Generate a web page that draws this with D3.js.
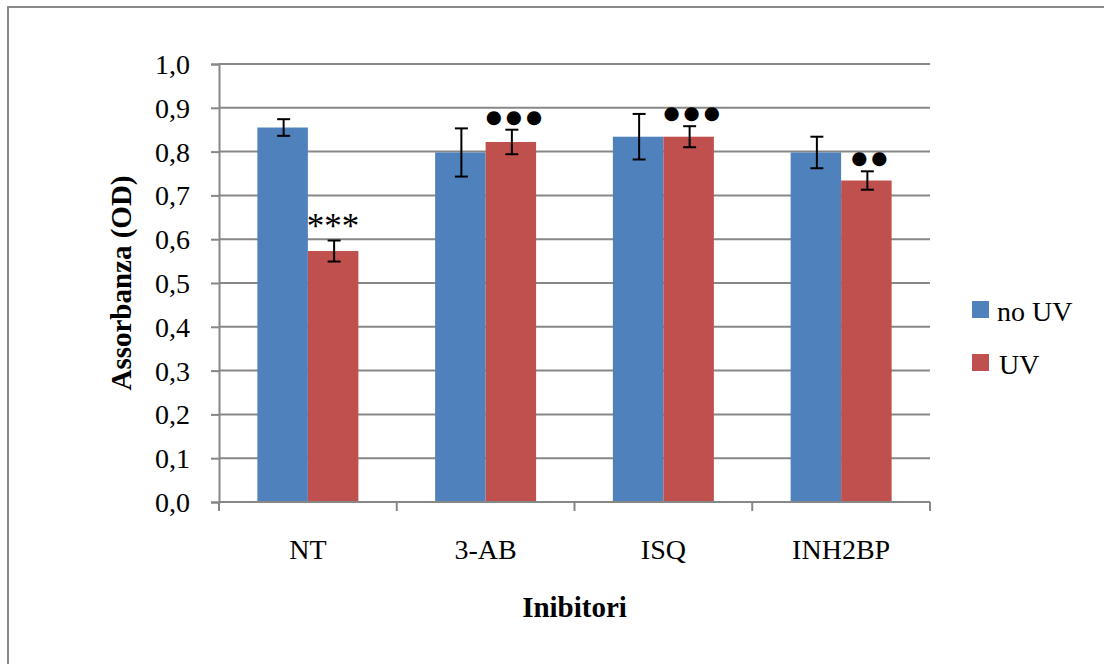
<!DOCTYPE html>
<html>
<head>
<meta charset="utf-8">
<script src="https://cdn.jsdelivr.net/npm/d3@7"></script>
<style>
  html, body { margin: 0; padding: 0; background: #ffffff; }
  svg { display: block; }
</style>
</head>
<body>
<svg id="chart" width="1104" height="664"></svg>
<script>
// ---- data ----
const categories = ["NT", "3-AB", "ISQ", "INH2BP"];
const seriesNames = ["no UV", "UV"];
const noUV = [0.855, 0.798, 0.834, 0.798];
const noUVErr = [0.019, 0.055, 0.052, 0.036];
const uv = [0.573, 0.822, 0.834, 0.734];
const uvErr = [0.024, 0.028, 0.024, 0.021];
const uvMarks = ["***", "●●●", "●●●", "●●"];
const yTicks = [0, 0.1, 0.2, 0.3, 0.4, 0.5, 0.6, 0.7, 0.8, 0.9, 1.0];
const xTitle = "Inibitori";
const yTitle = "Assorbanza (OD)";

const colors = { "no UV": "#4F81BD", "UV": "#C0504D" };
const gridColor = "#878787";
const serif = "'Liberation Serif', 'Times New Roman', serif";

const svg = d3.select("#chart");

// outer frame
svg.append("rect")
  .attr("x", 8).attr("y", 7)
  .attr("width", 1200).attr("height", 800)
  .attr("fill", "#fff")
  .attr("stroke", "#8a8a8a").attr("stroke-width", 2);

const plot = { left: 219, right: 930, top: 64, bottom: 502 };

const x0 = d3.scaleBand().domain(categories).range([plot.left, plot.right]).paddingInner(0).paddingOuter(0);
const x1 = d3.scaleBand().domain(seriesNames).range([0, x0.bandwidth()]).paddingInner(0).paddingOuter(0.76);
const y = d3.scaleLinear().domain([0, 1]).range([plot.bottom, plot.top]);

const fmt = v => d3.format(".1f")(v).replace(".", ",");

// gridlines
svg.append("g").selectAll("line").data(yTicks).join("line")
  .attr("x1", plot.left).attr("x2", plot.right)
  .attr("y1", d => y(d)).attr("y2", d => y(d))
  .attr("stroke", gridColor).attr("stroke-width", 2);

// y axis
const yAxis = d3.axisLeft(y).tickValues(yTicks).tickFormat(fmt).tickSize(8).tickPadding(21);
const gy = svg.append("g").attr("transform", `translate(${plot.left},0)`).call(yAxis);
gy.select(".domain").attr("stroke", gridColor).attr("stroke-width", 2);
gy.selectAll(".tick line").attr("stroke", gridColor).attr("stroke-width", 2);
gy.selectAll(".tick text")
  .attr("font-family", serif).attr("font-size", 28).attr("fill", "#000")
  .attr("dy", "0.34em");

// bars data
const rows = categories.map((c, i) => ({
  cat: c,
  vals: [
    { s: "no UV", v: noUV[i], e: noUVErr[i] },
    { s: "UV", v: uv[i], e: uvErr[i] }
  ],
  mark: uvMarks[i]
}));

const groups = svg.append("g").selectAll("g").data(rows).join("g")
  .attr("transform", d => `translate(${x0(d.cat)},0)`);

groups.selectAll("rect").data(d => d.vals).join("rect")
  .attr("x", d => x1(d.s))
  .attr("width", x1.bandwidth())
  .attr("y", d => y(d.v))
  .attr("height", d => y(0) - y(d.v))
  .attr("fill", d => colors[d.s]);

// x axis (on top of bars)
const xAxisG = svg.append("g");
xAxisG.append("line")
  .attr("x1", plot.left).attr("x2", plot.right)
  .attr("y1", y(0)).attr("y2", y(0))
  .attr("stroke", gridColor).attr("stroke-width", 2);
const boundaries = categories.map(c => x0(c)).concat([x0.range()[1]]);
xAxisG.selectAll("line.tk").data(boundaries).join("line").attr("class", "tk")
  .attr("x1", d => d).attr("x2", d => d)
  .attr("y1", y(0)).attr("y2", y(0) + 9)
  .attr("stroke", gridColor).attr("stroke-width", 2);
xAxisG.selectAll("text").data(categories).join("text")
  .attr("x", d => x0(d) + x0.bandwidth() / 2)
  .attr("y", 559)
  .attr("text-anchor", "middle")
  .attr("font-family", serif).attr("font-size", 28).attr("fill", "#000")
  .text(d => d);

// error bars
const eb = groups.selectAll("g.err").data(d => d.vals).join("g").attr("class", "err");
const cap = 6.5;
const cx = d => x1(d.s) + x1.bandwidth() / 2 + 1;
eb.append("line")
  .attr("x1", cx).attr("x2", cx)
  .attr("y1", d => y(d.v + d.e)).attr("y2", d => y(d.v - d.e))
  .attr("stroke", "#000").attr("stroke-width", 2);
eb.append("line")
  .attr("x1", d => cx(d) - cap).attr("x2", d => cx(d) + cap)
  .attr("y1", d => y(d.v + d.e)).attr("y2", d => y(d.v + d.e))
  .attr("stroke", "#000").attr("stroke-width", 2);
eb.append("line")
  .attr("x1", d => cx(d) - cap).attr("x2", d => cx(d) + cap)
  .attr("y1", d => y(d.v - d.e)).attr("y2", d => y(d.v - d.e))
  .attr("stroke", "#000").attr("stroke-width", 2);

// significance marks above UV bars
groups.append("text")
  .attr("x", d => x1("UV") + x1.bandwidth() / 2 + (d.mark === "***" ? 0 : 5))
  .attr("y", d => {
    const top = y(d.vals[1].v + d.vals[1].e);
    return d.mark === "***" ? top - 3 : top - 7;
  })
  .attr("text-anchor", "middle")
  .attr("font-family", d => d.mark === "***" ? serif : "'DejaVu Sans', sans-serif")
  .attr("font-size", d => d.mark === "***" ? 35 : 18.5)
  .attr("letter-spacing", d => d.mark === "***" ? 0 : 4)
  .attr("fill", "#000")
  .text(d => d.mark);

// axis titles
svg.append("text")
  .attr("x", (plot.left + plot.right) / 2)
  .attr("y", 617)
  .attr("text-anchor", "middle")
  .attr("font-family", serif).attr("font-weight", "bold").attr("font-size", 29)
  .text(xTitle);

svg.append("text")
  .attr("transform", "translate(131,283) rotate(-90)")
  .attr("text-anchor", "middle")
  .attr("font-family", serif).attr("font-weight", "bold").attr("font-size", 29)
  .text(yTitle);

// legend
const legend = svg.append("g").selectAll("g").data(seriesNames).join("g")
  .attr("transform", (d, i) => `translate(972,${301 + i * 53})`);
legend.append("rect").attr("width", 17).attr("height", 17).attr("fill", d => colors[d]);
legend.append("text")
  .attr("x", d => d === "UV" ? 27 : 25).attr("y", 19.5)
  .attr("font-family", serif).attr("font-size", 28).attr("fill", "#000")
  .text(d => d);
</script>
</body>
</html>
